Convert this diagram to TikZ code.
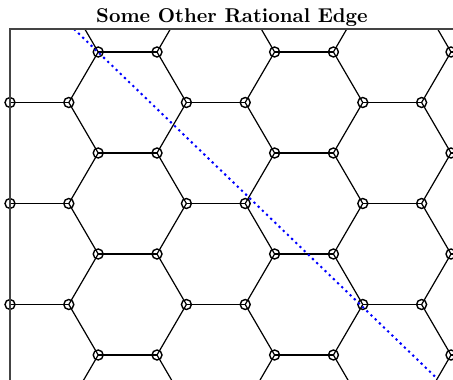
\documentclass[tikz,border=0pt]{standalone}
\usepackage{tikz}
\usetikzlibrary{positioning}
\definecolor{frame}{HTML}{444444}

\begin{document}
\begin{tikzpicture}[
    x=0.5pt, y=-0.5pt,
    vertex/.style={draw, circle, minimum size=5pt, inner sep=0, line width=0.7pt},
    bond/.style={line width=0.6pt},
    cut/.style={draw=blue, line width=1pt, dash pattern=on 1.1pt off 1.8pt}
]
\useasboundingbox (0,0) rectangle (453,379);

\node[font=\bfseries, anchor=base] (title) at (232,22.5) {Some Other Rational Edge};

\foreach \k in {2,4,6}
  \foreach \p in {6,8,12,14,18,20}
    \node[vertex] (v-\k-\p) at ({29.4*\p-166.4},{50.5*\k+1.5}) {};
\foreach \k in {1,3,5,7}
  \foreach \p in {9,11,15,17,21}
    \node[vertex] (v-\k-\p) at ({29.4*\p-166.4},{50.5*\k+1.5}) {};

\foreach \k in {0,8}
  \foreach \p in {8,12,14,18,20,24}
    \coordinate (v-\k-\p) at ({29.4*\p-166.4},{50.5*\k+1.5});
\foreach \k in {2,4,6}
  \foreach \p in {24,26}
    \coordinate (v-\k-\p) at ({29.4*\p-166.4},{50.5*\k+1.5});
\foreach \k in {1,3,5,7}
  \coordinate (v-\k-23) at ({29.4*23-166.4},{50.5*\k+1.5});

\coordinate (e-top) at (74,29);
\coordinate (e-bot) at (437.5,379);

\begin{scope}
\clip (10,29) rectangle (480,420);
\foreach \k in {2,4,6}
  \foreach \p in {6,12,18,24} {
    \pgfmathtruncatemacro\q{\p+2}
    \draw[bond] (v-\k-\p.center) -- (v-\k-\q.center);
  }
\foreach \k in {1,3,5,7} {
  \pgfmathtruncatemacro\kup{\k-1}
  \pgfmathtruncatemacro\kdn{\k+1}
  \foreach \p in {9,15,21} {
    \pgfmathtruncatemacro\q{\p+2}
    \pgfmathtruncatemacro\r{\p-1}
    \draw[bond] (v-\k-\p.center) -- (v-\k-\q.center);
    \draw[bond] (v-\kup-\r.center) -- (v-\k-\p.center) -- (v-\kdn-\r.center);
  }
  \foreach \p in {11,17,23} {
    \pgfmathtruncatemacro\r{\p+1}
    \draw[bond] (v-\kup-\r.center) -- (v-\k-\p.center) -- (v-\kdn-\r.center);
  }
}
\draw[cut] (e-top) -- (e-bot);
\end{scope}

\draw[frame, line width=0.6pt] (10,400) -- (10,29) -- (480,29);
\end{tikzpicture}
\end{document}
